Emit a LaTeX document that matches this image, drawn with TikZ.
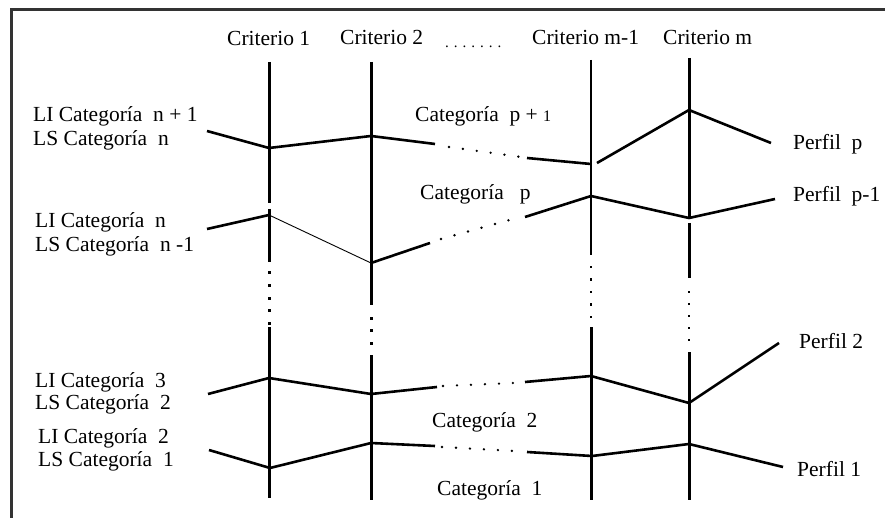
\documentclass[tikz,border=0pt]{standalone}
\usepackage{fontspec}
\setmainfont{Liberation Serif}
\begin{document}
\begin{tikzpicture}[x=1pt,y=-1pt,
  lbl/.style={anchor=base west,inner sep=0pt,font=\fontsize{21.5}{24}\selectfont},
  axisline/.style={line width=3pt},
  prof/.style={line width=2.6pt},
  thinprof/.style={line width=0.9pt},
  dotline/.style={line width=2.6pt,line cap=round,dash pattern=on 0pt off 14pt},
  vdot/.style={fill=black}
]
\useasboundingbox (0,0) rectangle (885,518);
% frame
\coordinate (fbl) at (11,518);
\coordinate (ftl) at (11,10);
\coordinate (ftr) at (885,10);
\draw[line width=3pt,black!80] (fbl) -- (ftl) -- (ftr);

% header labels
\node[lbl] (h1) at (227,46) {Criterio 1};
\node[lbl] (h2) at (340,45) {Criterio 2};
\node[lbl,font=\fontsize{15}{15}\selectfont] (hd) at (445,48) {. . . . . . .};
\node[lbl] (h3) at (532,45) {Criterio m-1};
\node[lbl] (h4) at (663,45) {Criterio m};

% axis 1
\coordinate (a1t) at (269,62);
\coordinate (a1g1) at (269,203);
\coordinate (a1g2) at (269,209);
\coordinate (a1m) at (269,262);
\coordinate (a1n) at (269,327);
\coordinate (a1b) at (269,498);
\draw[axisline] (a1t) -- (a1g1);
\draw[axisline] (a1g2) -- (a1m);
\draw[axisline] (a1n) -- (a1b);
\foreach \yy in {273,285.5,298,310.5,323} \fill[vdot] (269-1.5,\yy-1.5) rectangle (269+1.5,\yy+1.5);
% axis 2
\coordinate (a2t) at (371,62);
\coordinate (a2m) at (371,305);
\coordinate (a2n) at (371,355);
\coordinate (a2b) at (371,500);
\draw[axisline] (a2t) -- (a2m);
\draw[axisline] (a2n) -- (a2b);
\foreach \yy in {318,330.5,343} \fill[vdot] (371-1.5,\yy-1.5) rectangle (371+1.5,\yy+1.5);
% axis m-1
\coordinate (a3t) at (591,60);
\coordinate (a3m) at (591,255);
\coordinate (a3n) at (591,327);
\coordinate (a3b) at (591,500);
\draw[line width=2.4pt] (a3t) -- (a3m);
\draw[axisline] (a3n) -- (a3b);
\foreach \yy in {267,279.5,292,304.5,317} \fill[vdot] (591-1.4,\yy-1.4) rectangle (591+1.4,\yy+1.4);
% axis m
\coordinate (a4t) at (689,58);
\coordinate (a4g1) at (689,219);
\coordinate (a4g2) at (689,223);
\coordinate (a4m) at (689,278);
\coordinate (a4n) at (689,352);
\coordinate (a4b) at (689,500);
\draw[axisline] (a4t) -- (a4g1);
\draw[axisline] (a4g2) -- (a4m);
\draw[axisline] (a4n) -- (a4b);
\foreach \yy in {292,304,316,328,340} \fill[vdot] (689-1.2,\yy-1.2) rectangle (689+1.2,\yy+1.2);

% profile p (top)
\coordinate (p1a) at (207,131);
\coordinate (p1b) at (269,148);
\coordinate (p1c) at (371,136);
\coordinate (p1d) at (435,144);
\coordinate (p1s) at (449,147);
\coordinate (p1t) at (521,157);
\coordinate (p1e) at (527,158);
\coordinate (p1f) at (591,164);
\coordinate (p1g) at (597,163);
\coordinate (p1h) at (689,110);
\coordinate (p1i) at (771,143);
\draw[prof] (p1a) -- (p1b) -- (p1c) -- (p1d);
\draw[dotline] (p1s) -- (p1t);
\draw[prof] (p1e) -- (p1f);
\draw[prof] (p1g) -- (p1h) -- (p1i);

% profile p-1
\coordinate (p2a) at (207,229);
\coordinate (p2b) at (269,215);
\coordinate (p2c) at (371,263);
\coordinate (p2d) at (430,243);
\coordinate (p2s) at (441,239);
\coordinate (p2t) at (513,219);
\coordinate (p2e) at (525,217);
\coordinate (p2f) at (591,196);
\coordinate (p2g) at (689,218);
\coordinate (p2h) at (775,199);
\draw[prof] (p2a) -- (p2b);
\draw[thinprof] (p2b) -- (p2c);
\draw[prof] (p2c) -- (p2d);
\draw[dotline] (p2s) -- (p2t);
\draw[prof] (p2e) -- (p2f) -- (p2g) -- (p2h);

% profile 2
\coordinate (p3a) at (208,394);
\coordinate (p3b) at (269,378);
\coordinate (p3c) at (371,394);
\coordinate (p3d) at (437,387);
\coordinate (p3s) at (443,386);
\coordinate (p3t) at (513,383);
\coordinate (p3e) at (525,382);
\coordinate (p3f) at (591,376);
\coordinate (p3g) at (689,403);
\coordinate (p3h) at (779,343);
\draw[prof] (p3a) -- (p3b) -- (p3c) -- (p3d);
\draw[dotline] (p3s) -- (p3t);
\draw[prof] (p3e) -- (p3f) -- (p3g) -- (p3h);

% profile 1
\coordinate (p4a) at (209,450);
\coordinate (p4b) at (270,468);
\coordinate (p4c) at (371,443);
\coordinate (p4d) at (435,446);
\coordinate (p4s) at (442,447);
\coordinate (p4t) at (514,451);
\coordinate (p4e) at (527,452);
\coordinate (p4f) at (592,456);
\coordinate (p4g) at (689,444);
\coordinate (p4h) at (783,467);
\draw[prof] (p4a) -- (p4b) -- (p4c) -- (p4d);
\draw[dotline] (p4s) -- (p4t);
\draw[prof] (p4e) -- (p4f) -- (p4g) -- (p4h);

% left labels
\node[lbl] (l1) at (33,122) {LI Categoría~~n + 1};
\node[lbl] (l2) at (33,146) {LS Categoría~~n};
\node[lbl] (l3) at (35,228) {LI Categoría~~n};
\node[lbl] (l4) at (35,252) {LS Categoría~~n -1};
\node[lbl] (l5) at (35,387) {LI Categoría~~3};
\node[lbl] (l6) at (35,409) {LS Categoría~~2};
\node[lbl] (l7) at (38,443) {LI Categoría~~2};
\node[lbl] (l8) at (38,466) {LS Categoría~~1};

% middle labels
\node[lbl] (m1) at (415,122) {Categoría~~p + {\fontsize{16}{16}\selectfont 1}};
\node[lbl] (m2) at (420,200) {Categoría~~~p};
\node[lbl] (m3) at (432,427) {Categoría~~2};
\node[lbl] (m4) at (437,495) {Categoría~~1};

% right labels
\node[lbl] (r1) at (793,150) {Perfil~~p};
\node[lbl] (r2) at (793,202) {Perfil~~p-1};
\node[lbl] (r3) at (799,348) {Perfil 2};
\node[lbl] (r4) at (797,476) {Perfil 1};
\end{tikzpicture}
\end{document}
